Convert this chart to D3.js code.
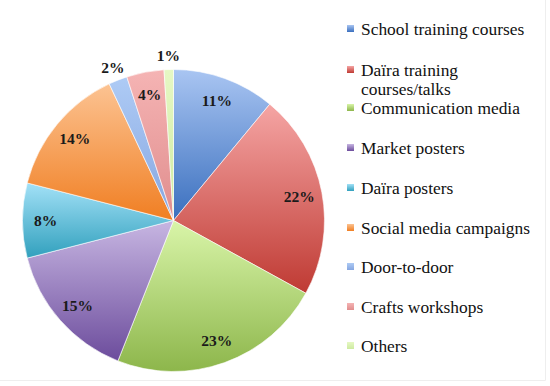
<!DOCTYPE html>
<html>
<head>
<meta charset="utf-8">
<script src="https://cdn.jsdelivr.net/npm/d3@7"></script>
<style>
  body { margin: 0; background: #fff; }
  svg { display: block; }
</style>
</head>
<body>
<svg id="chart" width="550" height="386"></svg>
<script>
const categories = ['School training courses', 'Daïra training courses/talks', 'Communication media', 'Market posters',
  'Daïra posters', 'Social media campaigns', 'Door-to-door', 'Crafts workshops', 'Others'];
const values = [11, 22, 23, 15, 8, 14, 2, 4, 1];
// light (top) / dark (bottom) of each slice gradient
const lightColors = ['#a9c5f2', '#f5a5a4', '#d9f5a9', '#c7b6e2', '#a3e1f7', '#fcc392', '#aecbf5', '#f5b4b4', '#e6f8c4'];
const darkColors = ['#3a6fbe', '#bf3a33', '#8db64b', '#6c4c9c', '#31a0bd', '#f07e22', '#86a6e0', '#e08d8d', '#cdeaa0'];

const svg = d3.select('#chart');
const cx = 173.5, cy = 220.5, radius = 151;
const font = '"Liberation Serif"';

const defs = svg.append('defs');
categories.forEach((c, i) => {
  const g = defs.append('linearGradient').attr('id', 'grad' + i)
    .attr('x1', 0).attr('y1', 0).attr('x2', 0).attr('y2', 1);
  g.append('stop').attr('offset', '0%').attr('stop-color', lightColors[i]);
  g.append('stop').attr('offset', '100%').attr('stop-color', darkColors[i]);
});

// faint frame edges
svg.append('line').attr('x1', 545.5).attr('x2', 545.5).attr('y1', 0).attr('y2', 380.5).attr('stroke', '#eeeeee');
svg.append('line').attr('x1', 0).attr('x2', 545.5).attr('y1', 380.5).attr('y2', 380.5).attr('stroke', '#eeeeee');

const pie = d3.pie().sort(null).value(d => d)(values);
const arc = d3.arc().innerRadius(0).outerRadius(radius);
const labelArc = d3.arc().innerRadius(128).outerRadius(128);
const outerLabelArc = d3.arc().innerRadius(165).outerRadius(165);

const g = svg.append('g').attr('transform', `translate(${cx},${cy})`);

g.selectAll('path.slice')
  .data(pie)
  .enter()
  .append('path')
  .attr('class', 'slice')
  .attr('d', arc)
  .attr('fill', (d, i) => `url(#grad${i})`)
  .attr('stroke', '#ffffff')
  .attr('stroke-width', 0.6);

g.selectAll('text.pct')
  .data(pie)
  .enter()
  .append('text')
  .attr('class', 'pct')
  .attr('transform', d => `translate(${(d.data < 3 ? outerLabelArc : labelArc).centroid(d)})`)
  .attr('text-anchor', 'middle')
  .attr('dy', '0.35em')
  .style('font-family', font)
  .style('font-weight', 'bold')
  .style('font-size', '15.5px')
  .style('fill', '#1a1a1a')
  .text(d => d.data + '%');

// legend
const legendY = [29, 70, 108, 148, 188, 228, 267, 307, 346];
const legend = svg.append('g');
categories.forEach((c, i) => {
  const row = legend.append('g').attr('transform', `translate(347,${legendY[i]})`);
  row.append('rect').attr('x', 0).attr('y', -4).attr('width', 7).attr('height', 7).attr('fill', `url(#grad${i})`);
  const words = c === 'Daïra training courses/talks' ? ['Daïra training', 'courses/talks'] : [c];
  words.forEach((w, j) => {
    row.append('text')
      .attr('x', 14)
      .attr('y', j * 19)
      .attr('dy', '0.33em')
      .style('font-family', font)
      .style('font-size', '17.4px')
      .style('fill', '#111')
      .text(w);
  });
});
</script>
</body>
</html>
